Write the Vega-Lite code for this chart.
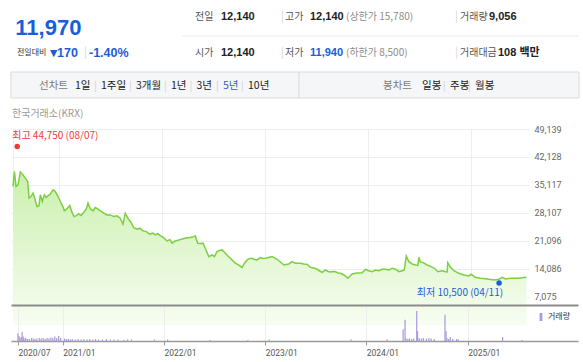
{
  "$schema": "https://vega.github.io/schema/vega-lite/v6.json",
  "padding": {"left": 9, "top": 0, "right": 0, "bottom": 0},
  "background": "white",
  "config": {
    "view": {"stroke": null},
    "font": "Noto Sans CJK KR",
    "axis": {"labelFont": "Roboto"},
    "axisY": {"labelOverlap": false},
    "axisX": {"labelOverlap": false},
    "legend": {"labelFont": "Noto Sans CJK KR"}
  },
  "datasets": {
    "hdr": [
      {"t": "11,970", "k": "big", "c": 2, "r": 2},
      {"t": "전일대비", "k": "sub", "c": 3, "r": 4},
      {"t": "▼", "k": "tri", "c": 5, "r": 4},
      {"t": "170", "k": "chg", "c": 6, "r": 4},
      {"t": "|", "k": "sep", "c": 8, "r": 4},
      {"t": "-1.40%", "k": "chg", "c": 9, "r": 4},
      {"t": "전일", "k": "lab", "c": 14, "r": 1},
      {"t": "12,140", "k": "val", "c": 16, "r": 1},
      {"t": "|", "k": "sep", "c": 19, "r": 1},
      {"t": "고가", "k": "lab", "c": 20, "r": 1},
      {"t": "12,140", "k": "val", "c": 22, "r": 1},
      {"t": "(상한가 15,780)", "k": "par", "c": 23, "r": 1},
      {"t": "|", "k": "sep", "c": 27, "r": 1},
      {"t": "거래량", "k": "lab", "c": 28, "r": 1},
      {"t": "9,056", "k": "val", "c": 30, "r": 1},
      {"t": "시가", "k": "lab", "c": 14, "r": 4},
      {"t": "12,140", "k": "val", "c": 16, "r": 4},
      {"t": "|", "k": "sep", "c": 19, "r": 4},
      {"t": "저가", "k": "lab", "c": 20, "r": 4},
      {"t": "11,940", "k": "valb", "c": 22, "r": 4},
      {"t": "(하한가 8,500)", "k": "par", "c": 23, "r": 4},
      {"t": "|", "k": "sep", "c": 27, "r": 4},
      {"t": "거래대금", "k": "lab", "c": 28, "r": 4},
      {"t": "108 백만", "k": "val", "c": 31, "r": 4},
      {"k": "hline", "c": 13, "c2": 32, "r": 3},
      {"k": "box", "c": 0, "c2": 32, "r": 5, "r2": 7},
      {"k": "div", "c": 21, "r": 5, "r2": 7},
      {"t": "선차트", "k": "tabg", "c": 4, "r": 6},
      {"t": "1일", "k": "tab", "c": 7, "r": 6},
      {"t": "1주일", "k": "tab", "c": 10, "r": 6},
      {"t": "3개월", "k": "tab", "c": 11, "r": 6},
      {"t": "1년", "k": "tab", "c": 12, "r": 6},
      {"t": "3년", "k": "tab", "c": 15, "r": 6},
      {"t": "5년", "k": "tabsel", "c": 17, "r": 6},
      {"t": "10년", "k": "tab", "c": 18, "r": 6},
      {"t": "봉차트", "k": "tabg", "c": 24, "r": 6},
      {"t": "일봉", "k": "tab", "c": 25, "r": 6},
      {"t": "주봉", "k": "tab", "c": 26, "r": 6},
      {"t": "월봉", "k": "tab", "c": 29, "r": 6},
      {"t": "한국거래소(KRX)", "k": "src", "c": 1, "r": 8}
    ],
    "price": [
      {"date": "2020-07-23", "v": 34720}, {"date": "2020-07-28", "v": 38480}, {"date": "2020-08-03", "v": 34720},
      {"date": "2020-08-10", "v": 35140}, {"date": "2020-08-18", "v": 38330}, {"date": "2020-08-27", "v": 37660},
      {"date": "2020-09-05", "v": 36830}, {"date": "2020-09-13", "v": 35970}, {"date": "2020-09-18", "v": 31800},
      {"date": "2020-09-25", "v": 32200}, {"date": "2020-10-02", "v": 33060}, {"date": "2020-10-08", "v": 31800},
      {"date": "2020-10-16", "v": 29690}, {"date": "2020-10-23", "v": 29870}, {"date": "2020-10-28", "v": 32630},
      {"date": "2020-11-04", "v": 30950}, {"date": "2020-11-11", "v": 32630}, {"date": "2020-11-18", "v": 31950},
      {"date": "2020-11-25", "v": 32450}, {"date": "2020-12-02", "v": 32810}, {"date": "2020-12-12", "v": 33890},
      {"date": "2020-12-20", "v": 33460}, {"date": "2020-12-28", "v": 32450}, {"date": "2021-01-07", "v": 30950},
      {"date": "2021-01-16", "v": 29690}, {"date": "2021-01-21", "v": 28610}, {"date": "2021-01-30", "v": 29110},
      {"date": "2021-02-09", "v": 29940}, {"date": "2021-02-17", "v": 28280}, {"date": "2021-02-25", "v": 27180},
      {"date": "2021-03-04", "v": 27430}, {"date": "2021-03-13", "v": 27860}, {"date": "2021-03-21", "v": 27430},
      {"date": "2021-03-31", "v": 28280}, {"date": "2021-04-09", "v": 29110}, {"date": "2021-04-15", "v": 30540},
      {"date": "2021-04-23", "v": 29110}, {"date": "2021-05-03", "v": 28610}, {"date": "2021-05-11", "v": 29440},
      {"date": "2021-05-19", "v": 29110}, {"date": "2021-05-29", "v": 28610}, {"date": "2021-06-10", "v": 28030},
      {"date": "2021-06-21", "v": 27600}, {"date": "2021-07-03", "v": 27600}, {"date": "2021-07-15", "v": 27180},
      {"date": "2021-07-27", "v": 27350}, {"date": "2021-08-07", "v": 26780}, {"date": "2021-08-17", "v": 25270},
      {"date": "2021-08-25", "v": 28030}, {"date": "2021-09-03", "v": 26780}, {"date": "2021-09-14", "v": 25770},
      {"date": "2021-09-24", "v": 24410}, {"date": "2021-10-06", "v": 24010}, {"date": "2021-10-15", "v": 24260},
      {"date": "2021-10-27", "v": 23580}, {"date": "2021-11-08", "v": 23410}, {"date": "2021-11-20", "v": 22750},
      {"date": "2021-12-01", "v": 23010}, {"date": "2021-12-10", "v": 22580}, {"date": "2021-12-18", "v": 22900},
      {"date": "2021-12-27", "v": 22400}, {"date": "2022-01-08", "v": 21900}, {"date": "2022-01-20", "v": 21070},
      {"date": "2022-01-30", "v": 21400}, {"date": "2022-02-07", "v": 20490}, {"date": "2022-02-18", "v": 21070},
      {"date": "2022-03-03", "v": 21320}, {"date": "2022-03-14", "v": 21570}, {"date": "2022-03-28", "v": 21820},
      {"date": "2022-04-12", "v": 21950}, {"date": "2022-04-25", "v": 22150}, {"date": "2022-04-30", "v": 22330},
      {"date": "2022-05-09", "v": 20490}, {"date": "2022-05-19", "v": 20440}, {"date": "2022-05-28", "v": 20490},
      {"date": "2022-06-07", "v": 18810}, {"date": "2022-06-17", "v": 17130}, {"date": "2022-06-29", "v": 17550},
      {"date": "2022-07-07", "v": 17130}, {"date": "2022-07-16", "v": 18380}, {"date": "2022-07-25", "v": 18680},
      {"date": "2022-08-03", "v": 18810}, {"date": "2022-08-15", "v": 17980}, {"date": "2022-08-24", "v": 17300},
      {"date": "2022-09-02", "v": 16720}, {"date": "2022-09-11", "v": 16050}, {"date": "2022-09-19", "v": 15470},
      {"date": "2022-10-01", "v": 15040}, {"date": "2022-10-13", "v": 14360}, {"date": "2022-10-22", "v": 15540},
      {"date": "2022-10-31", "v": 16300}, {"date": "2022-11-09", "v": 16670}, {"date": "2022-11-18", "v": 16720},
      {"date": "2022-11-26", "v": 16420}, {"date": "2022-12-05", "v": 16300}, {"date": "2022-12-17", "v": 16870},
      {"date": "2022-12-26", "v": 16670}, {"date": "2023-01-04", "v": 16720}, {"date": "2023-01-15", "v": 16920},
      {"date": "2023-01-27", "v": 17130}, {"date": "2023-02-05", "v": 16800}, {"date": "2023-02-14", "v": 16470},
      {"date": "2023-02-26", "v": 15790}, {"date": "2023-03-10", "v": 15040}, {"date": "2023-03-18", "v": 15170},
      {"date": "2023-03-28", "v": 15290}, {"date": "2023-04-08", "v": 15870}, {"date": "2023-04-20", "v": 15470},
      {"date": "2023-05-08", "v": 15470}, {"date": "2023-05-19", "v": 15290}, {"date": "2023-05-31", "v": 15220},
      {"date": "2023-06-12", "v": 14460}, {"date": "2023-06-24", "v": 14290}, {"date": "2023-07-06", "v": 13960},
      {"date": "2023-07-15", "v": 13530}, {"date": "2023-07-24", "v": 13210}, {"date": "2023-08-04", "v": 13780},
      {"date": "2023-08-14", "v": 13410}, {"date": "2023-08-22", "v": 13280}, {"date": "2023-09-01", "v": 13410},
      {"date": "2023-09-09", "v": 13360}, {"date": "2023-09-18", "v": 13030}, {"date": "2023-09-27", "v": 12950},
      {"date": "2023-10-09", "v": 12530}, {"date": "2023-10-23", "v": 11700}, {"date": "2023-10-31", "v": 12280},
      {"date": "2023-11-07", "v": 12780}, {"date": "2023-11-25", "v": 13030}, {"date": "2023-12-13", "v": 13110},
      {"date": "2023-12-24", "v": 13960}, {"date": "2024-01-05", "v": 13610}, {"date": "2024-01-17", "v": 13360},
      {"date": "2024-01-29", "v": 13780}, {"date": "2024-02-10", "v": 13610}, {"date": "2024-02-21", "v": 13960},
      {"date": "2024-03-04", "v": 13960}, {"date": "2024-03-16", "v": 13780}, {"date": "2024-03-28", "v": 14210},
      {"date": "2024-04-09", "v": 13960}, {"date": "2024-04-21", "v": 13360}, {"date": "2024-05-02", "v": 13610},
      {"date": "2024-05-10", "v": 13780}, {"date": "2024-05-17", "v": 17300}, {"date": "2024-05-26", "v": 15870},
      {"date": "2024-06-07", "v": 15290}, {"date": "2024-06-19", "v": 15040}, {"date": "2024-06-27", "v": 14950},
      {"date": "2024-07-01", "v": 16980}, {"date": "2024-07-05", "v": 15870}, {"date": "2024-07-16", "v": 15620},
      {"date": "2024-07-30", "v": 15040}, {"date": "2024-08-13", "v": 14610}, {"date": "2024-08-25", "v": 14210},
      {"date": "2024-09-06", "v": 13360}, {"date": "2024-09-21", "v": 13610}, {"date": "2024-10-03", "v": 13360},
      {"date": "2024-10-09", "v": 13300}, {"date": "2024-10-11", "v": 15620}, {"date": "2024-10-21", "v": 14460},
      {"date": "2024-11-02", "v": 13610}, {"date": "2024-11-19", "v": 12950}, {"date": "2024-12-07", "v": 12530},
      {"date": "2024-12-25", "v": 12280}, {"date": "2025-01-02", "v": 12700}, {"date": "2025-01-17", "v": 11950},
      {"date": "2025-02-04", "v": 11700}, {"date": "2025-02-28", "v": 11520}, {"date": "2025-03-24", "v": 11270},
      {"date": "2025-04-10", "v": 11450}, {"date": "2025-04-22", "v": 11950}, {"date": "2025-05-04", "v": 11520},
      {"date": "2025-05-21", "v": 11700}, {"date": "2025-06-14", "v": 11700}, {"date": "2025-07-02", "v": 11850},
      {"date": "2025-07-17", "v": 11970}
    ],
    "marks": [
      {"k": "max", "date": "2020-08-07", "v": 44750, "t": "최고 44,750 (08/07)"},
      {"k": "min", "date": "2025-04-11", "v": 10500, "t": "최저 10,500 (04/11)"}
    ],
    "vol": [
      {"date": "2020-07-23", "vol": 616000}, {"date": "2020-07-27", "vol": 411000}, {"date": "2020-07-30", "vol": 247000},
      {"date": "2020-08-04", "vol": 329000}, {"date": "2020-08-07", "vol": 740000}, {"date": "2020-08-11", "vol": 370000},
      {"date": "2020-08-14", "vol": 205000}, {"date": "2020-08-20", "vol": 247000}, {"date": "2020-08-26", "vol": 164000},
      {"date": "2020-09-02", "vol": 164000}, {"date": "2020-09-10", "vol": 247000}, {"date": "2020-09-16", "vol": 205000},
      {"date": "2020-09-22", "vol": 164000}, {"date": "2020-09-29", "vol": 205000}, {"date": "2020-10-08", "vol": 247000},
      {"date": "2020-10-15", "vol": 205000}, {"date": "2020-10-22", "vol": 247000}, {"date": "2020-10-29", "vol": 164000},
      {"date": "2020-11-05", "vol": 247000}, {"date": "2020-11-12", "vol": 205000}, {"date": "2020-11-19", "vol": 288000},
      {"date": "2020-11-26", "vol": 247000}, {"date": "2020-12-03", "vol": 370000}, {"date": "2020-12-10", "vol": 247000},
      {"date": "2020-12-17", "vol": 411000}, {"date": "2020-12-24", "vol": 247000}, {"date": "2021-01-07", "vol": 205000},
      {"date": "2021-01-14", "vol": 164000}, {"date": "2021-01-21", "vol": 164000}, {"date": "2021-01-28", "vol": 123000},
      {"date": "2021-02-04", "vol": 164000}, {"date": "2021-02-15", "vol": 123000}, {"date": "2021-02-25", "vol": 164000},
      {"date": "2021-03-08", "vol": 123000}, {"date": "2021-03-18", "vol": 164000}, {"date": "2021-03-29", "vol": 123000},
      {"date": "2021-04-08", "vol": 164000}, {"date": "2021-04-19", "vol": 123000}, {"date": "2021-04-29", "vol": 164000},
      {"date": "2021-05-10", "vol": 123000}, {"date": "2021-05-24", "vol": 123000}, {"date": "2021-06-07", "vol": 164000},
      {"date": "2021-06-21", "vol": 123000}, {"date": "2021-07-05", "vol": 123000}, {"date": "2021-07-19", "vol": 123000},
      {"date": "2021-08-09", "vol": 82000}, {"date": "2021-08-23", "vol": 123000}, {"date": "2021-09-06", "vol": 123000},
      {"date": "2021-11-27", "vol": 123000}, {"date": "2022-01-14", "vol": 123000}, {"date": "2022-06-17", "vol": 82000},
      {"date": "2022-10-31", "vol": 82000}, {"date": "2023-01-16", "vol": 123000}, {"date": "2023-11-07", "vol": 123000},
      {"date": "2024-03-16", "vol": 123000}, {"date": "2024-05-13", "vol": 986000}, {"date": "2024-05-20", "vol": 1767000},
      {"date": "2024-05-23", "vol": 247000}, {"date": "2024-05-30", "vol": 164000}, {"date": "2024-06-05", "vol": 205000},
      {"date": "2024-06-13", "vol": 164000}, {"date": "2024-06-20", "vol": 205000}, {"date": "2024-07-01", "vol": 2507000},
      {"date": "2024-07-04", "vol": 822000}, {"date": "2024-07-10", "vol": 247000}, {"date": "2024-07-18", "vol": 205000},
      {"date": "2024-07-25", "vol": 247000}, {"date": "2024-08-05", "vol": 205000}, {"date": "2024-08-14", "vol": 247000},
      {"date": "2024-08-22", "vol": 205000}, {"date": "2024-09-02", "vol": 164000}, {"date": "2024-10-11", "vol": 2178000},
      {"date": "2024-10-15", "vol": 822000}, {"date": "2024-10-18", "vol": 247000}, {"date": "2024-10-24", "vol": 164000},
      {"date": "2024-10-30", "vol": 329000}, {"date": "2024-11-08", "vol": 164000}, {"date": "2024-11-22", "vol": 164000},
      {"date": "2024-11-28", "vol": 123000}, {"date": "2025-05-07", "vol": 329000}, {"date": "2025-07-17", "vol": 82000}
    ]
  },
  "spacing": 0,
  "bounds": "flush",
  "resolve": {
    "scale": {"x": "independent", "y": "independent", "color": "independent"},
    "axis": {"x": "independent", "y": "independent"},
    "legend": {"color": "independent"}
  },
  "vconcat": [
    {
      "width": 567,
      "height": 129,
      "data": {"name": "hdr"},
      "encoding": {
        "x": {"field": "c", "type": "quantitative", "axis": null,
          "scale": {"nice": false, "zero": false,
            "domain": [0,1,2,3,4,5,6,7,8,9,10,11,12,13,14,15,16,17,18,19,20,21,22,23,24,25,26,27,28,29,30,31,32],
            "range": [0,1,4.3,6,28,39,46,64,73,78,90,125,160,171,184,185.5,210,212,237,270,274,288,299,335,372,411,439,444,449,464,478,487,568]}},
        "y": {"field": "r", "type": "quantitative", "axis": null,
          "scale": {"nice": false, "zero": false, "domain": [1,2,3,4,5,6,7,8], "range": [17,27.5,36,52.5,72,86,98,114]}}
      },
      "layer": [
        {"transform": [{"filter": "datum.k === 'box'"}], "mark": {"type": "rect", "fill": "#f5f6f8", "stroke": "#d9d9d9", "strokeWidth": 1}, "encoding": {"x2": {"field": "c2"}, "y2": {"field": "r2"}}},
        {"transform": [{"filter": "datum.k === 'div'"}], "mark": {"type": "rule", "color": "#d9d9d9"}, "encoding": {"y2": {"field": "r2"}}},
        {"transform": [{"filter": "datum.k === 'hline'"}], "mark": {"type": "rule", "color": "#ececec"}, "encoding": {"x2": {"field": "c2"}}},
        {"transform": [{"filter": "datum.k === 'big'"}], "mark": {"type": "text", "align": "left", "baseline": "middle", "font": "Liberation Sans", "fontSize": 22, "fontWeight": "bold", "color": "#1a5dd8"}, "encoding": {"text": {"field": "t"}}},
        {"transform": [{"filter": "datum.k === 'sub'"}], "mark": {"type": "text", "align": "left", "baseline": "middle", "fontSize": 8, "color": "#333333"}, "encoding": {"text": {"field": "t"}}},
        {"transform": [{"filter": "datum.k === 'tri'"}], "mark": {"type": "text", "align": "left", "baseline": "middle", "font": "DejaVu Sans", "fontSize": 9.5, "color": "#1a5dd8"}, "encoding": {"text": {"field": "t"}}},
        {"transform": [{"filter": "datum.k === 'chg'"}], "mark": {"type": "text", "align": "left", "baseline": "middle", "font": "Liberation Sans", "fontSize": 12.5, "fontWeight": "bold", "color": "#1a5dd8"}, "encoding": {"text": {"field": "t"}}},
        {"transform": [{"filter": "datum.k === 'sep'"}], "mark": {"type": "text", "align": "left", "baseline": "middle", "fontSize": 11, "color": "#d4d4d4"}, "encoding": {"text": {"field": "t"}}},
        {"transform": [{"filter": "datum.k === 'lab'"}], "mark": {"type": "text", "align": "left", "baseline": "middle", "fontSize": 10, "color": "#555555"}, "encoding": {"text": {"field": "t"}}},
        {"transform": [{"filter": "datum.k === 'val'"}], "mark": {"type": "text", "align": "left", "baseline": "middle", "font": "Liberation Sans, Noto Sans CJK KR", "fontSize": 11, "fontWeight": "bold", "color": "#222222"}, "encoding": {"text": {"field": "t"}}},
        {"transform": [{"filter": "datum.k === 'valb'"}], "mark": {"type": "text", "align": "left", "baseline": "middle", "font": "Liberation Sans, Noto Sans CJK KR", "fontSize": 11, "fontWeight": "bold", "color": "#1a5dd8"}, "encoding": {"text": {"field": "t"}}},
        {"transform": [{"filter": "datum.k === 'par'"}], "mark": {"type": "text", "align": "left", "baseline": "middle", "fontSize": 10, "color": "#8c8c8c"}, "encoding": {"text": {"field": "t"}}},
        {"transform": [{"filter": "datum.k === 'tabg'"}], "mark": {"type": "text", "align": "left", "baseline": "middle", "fontSize": 10.5, "color": "#7a7a7a"}, "encoding": {"text": {"field": "t"}}},
        {"transform": [{"filter": "datum.k === 'tab'"}], "mark": {"type": "text", "align": "left", "baseline": "middle", "fontSize": 10.5, "color": "#222222"}, "encoding": {"text": {"field": "t"}}},
        {"transform": [{"filter": "datum.k === 'tabsel'"}], "mark": {"type": "text", "align": "left", "baseline": "middle", "fontSize": 10.5, "color": "#3358c8"}, "encoding": {"text": {"field": "t"}}},
        {"transform": [{"filter": "indexof(['1주일','3개월','1년','3년','5년','10년','주봉','월봉'], datum.t) >= 0"}], "mark": {"type": "text", "align": "left", "baseline": "middle", "dx": -7, "fontSize": 10, "color": "#d0d0d0"}, "encoding": {"text": {"value": "|"}}},
        {"transform": [{"filter": "datum.k === 'src'"}], "mark": {"type": "text", "align": "left", "baseline": "middle", "fontSize": 10, "color": "#9a9a9a"}, "encoding": {"text": {"field": "t"}}}
      ]
    },
    {
      "width": 518,
      "height": 176,
      "encoding": {
        "x": {"field": "date", "type": "temporal",
          "scale": {"type": "utc", "domain": [{"year": 2020, "month": 7, "date": 16, "utc": true}, {"year": 2025, "month": 7, "date": 26, "utc": true}]},
          "axis": {"values": [{"year": 2020, "month": 7, "date": 23, "utc": true}, {"year": 2021, "month": 1, "date": 1, "utc": true}, {"year": 2022, "month": 1, "date": 1, "utc": true}, {"year": 2023, "month": 1, "date": 1, "utc": true}, {"year": 2024, "month": 1, "date": 1, "utc": true}, {"year": 2025, "month": 1, "date": 1, "utc": true}],
            "grid": true, "gridColor": "#eeeeee", "labels": false, "ticks": false, "domain": false, "title": null}},
        "y": {"field": "v", "type": "quantitative",
          "scale": {"domain": [5000, 49139], "nice": false, "zero": false},
          "axis": {"orient": "right", "values": [7075, 14086, 21096, 28107, 35117, 42128, 49139],
            "labelExpr": "format(datum.value, ',d')",
            "grid": true, "gridColor": "#eeeeee", "ticks": false, "domain": false, "labelPadding": 5,
            "labelFontSize": 9, "labelColor": "#666666", "title": null, "labelOverlap": false, "labelSeparation": 0,
            "labelFlush": false, "labelBaseline": "middle"}}
      },
      "layer": [
        {
          "data": {"name": "price"},
          "mark": {"type": "area", "color": {"gradient": "linear", "x1": 0, "y1": 1, "x2": 0, "y2": 0,
            "stops": [{"offset": 0, "color": "#f7fdf2"}, {"offset": 1, "color": "#cbf0ad"}]}}
        },
        {
          "data": {"name": "price"},
          "mark": {"type": "line", "color": "#7ad03e", "strokeWidth": 1.5}
        },
        {
          "data": {"name": "marks"},
          "mark": {"type": "point", "filled": true, "opacity": 1, "size": 30},
          "encoding": {
            "color": {"field": "k", "type": "nominal", "scale": {"domain": ["max", "min"], "range": ["#f03a3a", "#1a5dd8"]}, "legend": null}
          }
        },
        {
          "data": {"name": "marks"},
          "transform": [{"filter": "datum.k === 'max'"}],
          "mark": {"type": "text", "align": "left", "baseline": "middle", "dx": -5, "dy": -11, "fontSize": 10, "color": "#f03a3a"},
          "encoding": {"text": {"field": "t"}}
        },
        {
          "data": {"name": "marks"},
          "transform": [{"filter": "datum.k === 'min'"}],
          "mark": {"type": "text", "align": "right", "baseline": "middle", "dx": 4, "dy": 10, "fontSize": 10, "color": "#1a5dd8"},
          "encoding": {"text": {"field": "t"}}
        }
      ]
    },
    {
      "width": 567,
      "height": 36,
      "resolve": {"axis": {"x": "independent"}},
      "encoding": {
        "x": {"field": "date", "type": "temporal",
          "scale": {"type": "utc", "domain": [{"year": 2020, "month": 7, "date": 16, "utc": true}, {"year": 2026, "month": 1, "date": 16, "utc": true}]},
          "axis": {"orient": "bottom", "values": [{"year": 2020, "month": 7, "date": 23, "utc": true}, {"year": 2021, "month": 1, "date": 1, "utc": true}, {"year": 2022, "month": 1, "date": 1, "utc": true}, {"year": 2023, "month": 1, "date": 1, "utc": true}, {"year": 2024, "month": 1, "date": 1, "utc": true}, {"year": 2025, "month": 1, "date": 1, "utc": true}],
            "labelExpr": "utcFormat(datum.value, '%Y/%m')", "labelAlign": "left", "labelPadding": 3, "labelFontSize": 8.5,
            "labelColor": "#555555", "tickSize": 4, "tickColor": "#999999", "domainColor": "#9a9a9a", "domainWidth": 1.5,
            "grid": true, "gridColor": "#eeeeee", "title": null, "labelOverlap": false, "labelFlush": false}}
      },
      "layer": [
        {
          "data": {"name": "vol"},
          "mark": {"type": "bar", "width": 1.2},
          "encoding": {
            "y": {"field": "vol", "type": "quantitative", "scale": {"domain": [0, 3000000], "nice": false}, "axis": null},
            "color": {"datum": "거래량", "type": "nominal", "scale": {"range": ["#a899dc"]},
              "legend": {"title": null, "orient": "top-right", "offset": 7, "padding": 0, "symbolType": "M-0.35,-1H0.35V1H-0.35Z", "symbolSize": 64, "labelFontSize": 8, "labelColor": "#333333", "labelOffset": 2}}
          }
        },
        {
          "data": {"values": []},
          "mark": {"type": "tick", "opacity": 0},
          "encoding": {
            "x": {"field": "date", "type": "temporal",
              "axis": {"orient": "top", "labels": false, "ticks": false, "grid": false, "domainColor": "#8c8c8c", "domainWidth": 2, "title": null}}
          }
        }
      ]
    }
  ]
}
